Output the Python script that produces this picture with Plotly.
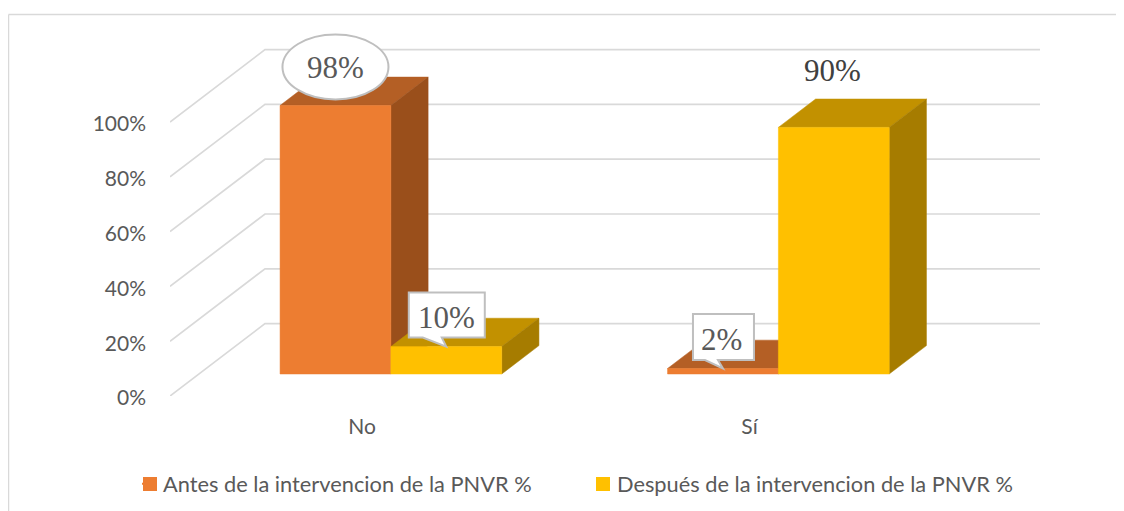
import plotly.graph_objects as go

categories = ["No", "Sí"]
series_names = ["Antes de la intervencion de la PNVR %", "Después de la intervencion de la PNVR %"]
antes = [98, 2]
despues = [10, 90]
y_ticks = [0, 20, 40, 60, 80, 100]
y_tick_labels = ["0%", "20%", "40%", "60%", "80%", "100%"]

# page layout (pixels, measured in figure space; the page adds an 8 px body margin)
PAGE = 8
W, H = 1124 - PAGE, 511 - PAGE
L, R, T, B = 170 - PAGE, 1040 - PAGE, 20 - PAGE, 396 - PAGE
PX_X = 387.5   # pixels per category step
PX_Y = 2.74    # pixels per percentage point
X0 = 362 - PAGE  # pixel of category 0 on the front of the floor
xmin, xmax = (L - X0) / PX_X, (R - X0) / PX_X
ymax = (B - T) / PX_Y
# oblique projection: full wall depth in axis units
DX, DY = 95 / PX_X, 72.4 / PX_Y
BAR_FRONT, BAR_BACK = 0.304, 0.304 + 0.392
BAR_W = 0.286

GRID = "#d9d9d9"
COL = [dict(front="#ED7D31", top="#B45F25", side="#9A4F1B"),
       dict(front="#FFC000", top="#C29100", side="#A67C00")]
TXT = "#595959"


def proj(x, v, d):
    return x + d * DX, v + d * DY


def face(pts, color):
    xs = [p[0] for p in pts]
    ys = [p[1] for p in pts]
    return go.Scatter(x=xs + xs[:1], y=ys + ys[:1], mode="lines", fill="toself",
                      fillcolor=color, line=dict(color=color, width=0.5),
                      hoverinfo="skip", showlegend=False, cliponaxis=False)


fig = go.Figure()

# wall and floor gridlines
for v in y_ticks:
    x1, y1 = proj(xmin, v, 1)
    fig.add_trace(go.Scatter(x=[xmin, x1, xmax], y=[v, y1, y1], mode="lines",
                             line=dict(color=GRID, width=1.7), hoverinfo="skip",
                             showlegend=False, cliponaxis=False))

# 3-D bars
for i in range(len(categories)):
    for s, vals in enumerate([antes, despues]):
        a = i - BAR_W + s * BAR_W
        b = a + BAR_W
        v = vals[i]
        c = COL[s]
        fig.add_trace(face([proj(a, v, BAR_FRONT), proj(b, v, BAR_FRONT),
                            proj(b, v, BAR_BACK), proj(a, v, BAR_BACK)], c["top"]))
        fig.add_trace(face([proj(b, 0, BAR_FRONT), proj(b, v, BAR_FRONT),
                            proj(b, v, BAR_BACK), proj(b, 0, BAR_BACK)], c["side"]))
        fig.add_trace(face([proj(a, 0, BAR_FRONT), proj(b, 0, BAR_FRONT),
                            proj(b, v, BAR_FRONT), proj(a, v, BAR_FRONT)], c["front"]))

# legend entries (the swatches are drawn as shapes so they can sit closer to the text)
for s, name in enumerate(series_names):
    fig.add_trace(go.Scatter(x=[None], y=[None], mode="markers", name=name,
                             marker=dict(symbol="square", size=2, color=COL[s]["front"])))


def anchor(i, s, v):
    """Top centre of a bar's front face, in axis units."""
    return proj(i - BAR_W + s * BAR_W + BAR_W / 2, v, BAR_FRONT)


def off(p, dx, dy):
    """Offset an axis point by screen pixels (dy positive = down)."""
    return p[0] + dx / PX_X, p[1] - dy / PX_Y


def callout(p, box, tail):
    l, r, t, b = box
    t0, t1 = tail
    pts = [(l, t), (r, t), (r, b), (t1, b), (0, 0), (t0, b), (l, b)]
    q = [off(p, *c) for c in pts]
    return "M " + " L ".join(f"{x:.5f},{y:.4f}" for x, y in q) + " Z"


shapes = []
annotations = []
BOX = dict(color="#bfbfbf", width=2)

# 98 % ellipse
p98 = anchor(0, 0, antes[0])
e0, e1 = off(p98, -53, -71), off(p98, 53, -6)
shapes.append(dict(type="circle", xref="x", yref="y", x0=e0[0], x1=e1[0], y0=e0[1], y1=e1[1],
                   fillcolor="white", line=BOX, layer="above"))
annotations.append(dict(x=p98[0], y=p98[1], yshift=38, text=f"{antes[0]}%"))

# 10 % and 2 % callouts
p10 = anchor(0, 1, despues[0])
shapes.append(dict(type="path", xref="x", yref="y", fillcolor="white", line=BOX, layer="above",
                   path=callout(p10, (-37.5, 38.5, -54, -9), (-23.5, -4.5))))
annotations.append(dict(x=p10[0], y=p10[1], xshift=0, yshift=29, text=f"{despues[0]}%"))

p2 = anchor(1, 0, antes[1])
shapes.append(dict(type="path", xref="x", yref="y", fillcolor="white", line=BOX, layer="above",
                   path=callout(p2, (-30, 31, -54.5, -8.5), (-18, -5))))
annotations.append(dict(x=p2[0], y=p2[1], xshift=-1, yshift=29, text=f"{antes[1]}%"))

# 90 % plain label
p90 = anchor(1, 1, despues[1])
annotations.append(dict(x=p90[0], y=p90[1], xshift=-1, yshift=57, text=f"{despues[1]}%",
                        font=dict(family="Liberation Serif", size=31, color="#404040")))

for a in annotations:
    a.setdefault("font", dict(family="Liberation Serif", size=31, color=TXT))
    a.update(xref="x", yref="y", showarrow=False, xanchor="center", yanchor="middle")

# chart-area border (top and left edges), in page pixels
to_px = lambda px: (px - PAGE - L) / (R - L)
to_py = lambda py: (B - (py - PAGE)) / (B - T)
shapes.append(dict(type="line", xref="paper", yref="paper", x0=to_px(8.5), x1=to_px(1124),
                   y0=to_py(14.5), y1=to_py(14.5), line=dict(color=GRID, width=1.5)))
shapes.append(dict(type="line", xref="paper", yref="paper", x0=to_px(8.5), x1=to_px(8.5),
                   y0=to_py(14.5), y1=to_py(511), line=dict(color=GRID, width=1.5)))

# legend swatches
for s, left in enumerate([143, 596]):
    shapes.append(dict(type="rect", xref="paper", yref="paper", layer="above",
                       x0=to_px(left), x1=to_px(left + 14), y0=to_py(477), y1=to_py(491),
                       fillcolor=COL[s]["front"], line=dict(width=0)))

FONT = "Lato"
fig.update_layout(
    width=W, height=H, autosize=False,
    margin=dict(l=L, r=W - R, t=T, b=H - B, pad=0, autoexpand=False),
    paper_bgcolor="white", plot_bgcolor="white",
    shapes=shapes, annotations=annotations,
    font=dict(family=FONT, size=21, color=TXT),
    legend=dict(orientation="h", x=to_px(130), xanchor="left", y=to_py(484), yanchor="middle",
                entrywidth=416, entrywidthmode="pixels", traceorder="normal", indentation=-7,
                itemsizing="trace",
                font=dict(family=FONT, size=21.8, color=TXT), bgcolor="rgba(0,0,0,0)"),
    xaxis=dict(range=[xmin, xmax], tickmode="array", tickvals=list(range(len(categories))),
               ticktext=categories, showgrid=False, zeroline=False, showline=False,
               ticks="", ticklabelstandoff=16, tickfont=dict(family=FONT, size=21, color=TXT)),
    yaxis=dict(range=[0, ymax], tickmode="array", tickvals=y_ticks, ticktext=y_tick_labels,
               showgrid=False, zeroline=False, showline=False, ticklabelshift=2,
               ticks="", ticklabelstandoff=23, tickfont=dict(family=FONT, size=21, color=TXT)),
)

fig.write_html("out.html")
